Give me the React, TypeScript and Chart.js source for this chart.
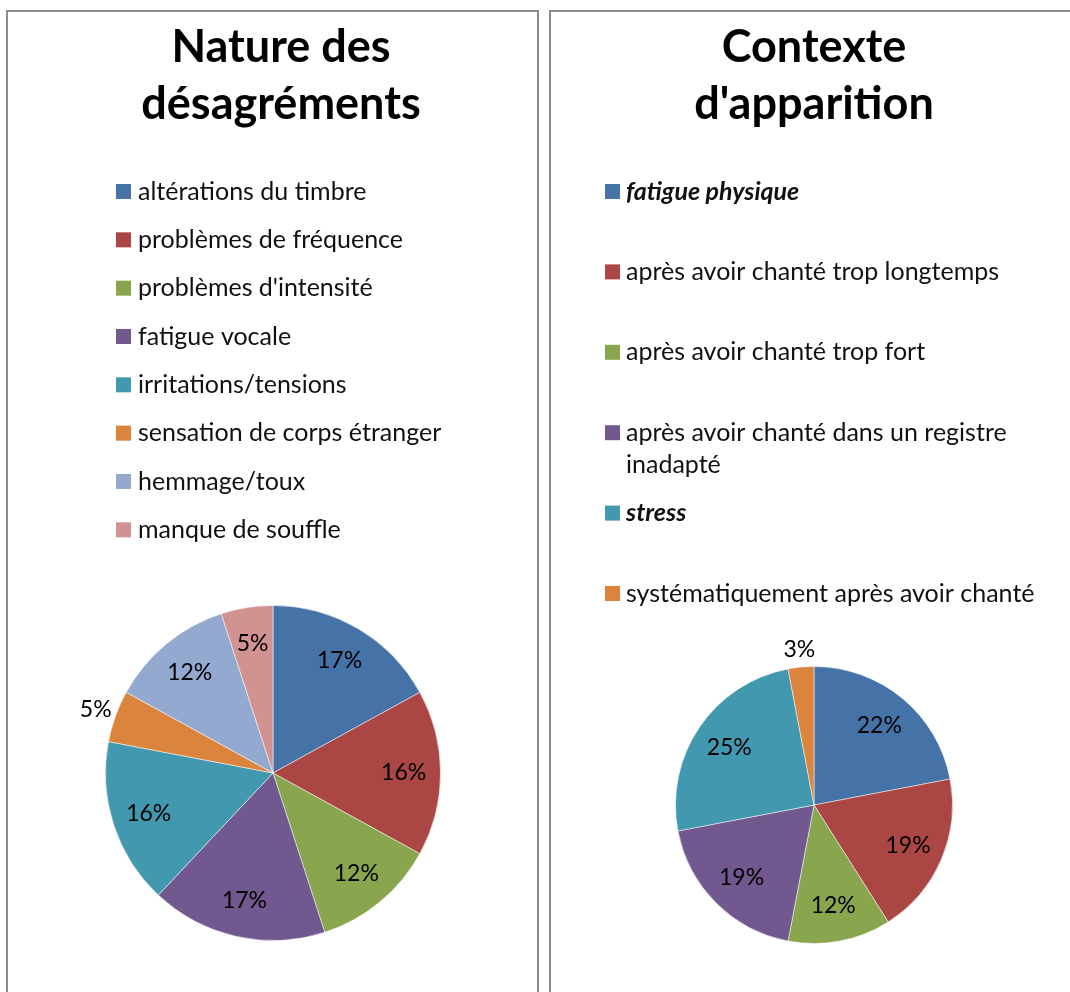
import React, { useEffect, useRef } from 'react';
import { Chart, registerables } from 'chart.js';

Chart.register(...registerables);

// ---------- data ----------
const natureTitle = ['Nature des', 'désagréments'];
const natureLabels = [
  'altérations du timbre',
  'problèmes de fréquence',
  "problèmes d'intensité",
  'fatigue vocale',
  'irritations/tensions',
  'sensation de corps étranger',
  'hemmage/toux',
  'manque de souffle',
];
const natureValues = [17, 16, 12, 17, 16, 5, 12, 5];

const contexteTitle = ['Contexte', "d'apparition"];
const contexteLabels = [
  'fatigue physique',
  'après avoir chanté trop longtemps',
  'après avoir chanté trop fort',
  'après avoir chanté dans un registre inadapté',
  'stress',
  'systématiquement après avoir chanté',
];
const contexteValues = [22, 19, 12, 19, 25, 3];

const palette = ['#4572A7', '#AA4643', '#89A54E', '#71588F', '#4198AF', '#DB843D', '#93A9CF', '#D19392'];

const FONT = 'Lato, Carlito, Calibri, "Open Sans", sans-serif';

// ---------- plugin drawing title, legend and percent labels ----------
const panelPlugin = {
  id: 'panelDecor',
  afterDraw(chart: any, _args: any, opts: any) {
    const ctx = chart.ctx;
    ctx.save();
    // title
    ctx.fillStyle = '#000';
    ctx.textAlign = 'center';
    ctx.textBaseline = 'alphabetic';
    ctx.font = `bold ${opts.titleSize}px ${FONT}`;
    const title: string[] = opts.title;
    title.forEach((line, i) => ctx.fillText(line, opts.titleX, opts.titleY + i * opts.titleLineH));

    // legend
    const labels: string[] = chart.data.labels;
    const bg: string[] = chart.data.datasets[0].backgroundColor;
    labels.forEach((lab, i) => {
      const cy = opts.legendY + i * opts.legendStep;
      ctx.fillStyle = bg[i];
      ctx.fillRect(opts.legendBoxX, cy - opts.legendBox / 2, opts.legendBox, opts.legendBox);
      const emph = opts.emphasis && opts.emphasis[i];
      ctx.font = `${emph ? 'italic bold ' : ''}${opts.legendSize}px ${FONT}`;
      ctx.fillStyle = '#111';
      ctx.textAlign = 'left';
      ctx.textBaseline = 'middle';
      // word wrap
      const words = lab.split(' ');
      const lines: string[] = [];
      let cur = '';
      words.forEach((w) => {
        const test = cur ? cur + ' ' + w : w;
        if (cur && ctx.measureText(test).width > opts.legendMaxW) {
          lines.push(cur);
          cur = w;
        } else cur = test;
      });
      if (cur) lines.push(cur);
      lines.forEach((l, j) => ctx.fillText(l, opts.legendTextX, cy + j * opts.legendLineH));
    });

    // percent labels
    const meta = chart.getDatasetMeta(0);
    const data: number[] = chart.data.datasets[0].data;
    const total = data.reduce((a, b) => a + b, 0);
    ctx.font = `${opts.labelSize}px ${FONT}`;
    ctx.fillStyle = '#000';
    ctx.textAlign = 'center';
    ctx.textBaseline = 'middle';
    meta.data.forEach((arc: any, i: number) => {
      const p = arc.getProps(['x', 'y', 'startAngle', 'endAngle', 'outerRadius'], true);
      const mid = (p.startAngle + p.endAngle) / 2;
      const k = opts.outside.includes(i) ? opts.outsideRatio : opts.insideRatio;
      const r = p.outerRadius * k;
      const txt = Math.round((data[i] / total) * 100) + '%';
      ctx.fillText(txt, p.x + Math.cos(mid) * r, p.y + Math.sin(mid) * r);
    });
    ctx.restore();
  },
};

type PanelProps = {
  labels: string[];
  values: number[];
  left: number;
  width: number;
  canvasW: number;
  padding: { left: number; right: number; top: number; bottom: number };
  radius: number;
  decor: any;
};

function PiePanel({ labels, values, left, width, canvasW, padding, radius, decor }: PanelProps) {
  const ref = useRef<HTMLCanvasElement | null>(null);
  useEffect(() => {
    if (!ref.current) return;
    const chart = new Chart(ref.current, {
      type: 'pie',
      data: {
        labels,
        datasets: [
          {
            data: values,
            backgroundColor: palette.slice(0, values.length),
            borderColor: 'rgba(255,255,255,0.5)',
            borderWidth: 1,
          },
        ],
      },
      options: {
        responsive: false,
        animation: false,
        events: [],
        radius,
        layout: { padding },
        plugins: {
          legend: { display: false },
          title: { display: false },
          tooltip: { enabled: false },
          panelDecor: decor,
        } as any,
      },
      plugins: [panelPlugin],
    });
    return () => chart.destroy();
  }, []);
  return (
    <div
      style={{
        position: 'absolute',
        left,
        top: 10,
        width,
        height: 1000,
        border: '2px solid #8c8c8c',
        boxSizing: 'border-box',
        background: '#fff',
        overflow: 'hidden',
      }}
    >
      <canvas ref={ref} width={canvasW} height={980} style={{ display: 'block', width: canvasW, height: 980 }} />
    </div>
  );
}

export default function App() {
  return (
    <div style={{ position: 'absolute', left: 0, top: 0, width: 1070, height: 992, background: '#fff', overflow: 'hidden' }}>
      <PiePanel
        labels={natureLabels}
        values={natureValues}
        left={6}
        width={533}
        canvasW={529}
        padding={{ left: 97, right: 96, top: 593, bottom: 51 }}
        radius={167.5}
        decor={{
          title: natureTitle,
          titleX: 273,
          titleY: 50,
          titleLineH: 57,
          titleSize: 45,
          legendBoxX: 108,
          legendBox: 15,
          legendTextX: 130,
          legendY: 179.5,
          legendStep: 48.33,
          legendSize: 25,
          legendLineH: 32,
          legendMaxW: 1000,
          labelSize: 23,
          insideRatio: 0.78,
          outsideRatio: 1.125,
          outside: [5],
        }}
      />
      <PiePanel
        labels={contexteLabels}
        values={contexteValues}
        left={549}
        width={525}
        canvasW={521}
        padding={{ left: 123, right: 118, top: 653, bottom: 47 }}
        radius={138.5}
        decor={{
          title: contexteTitle,
          titleX: 263,
          titleY: 50,
          titleLineH: 57,
          titleSize: 45,
          legendBoxX: 54,
          legendBox: 15,
          legendTextX: 75,
          legendY: 179.5,
          legendStep: 80.4,
          legendSize: 25,
          legendLineH: 32,
          legendMaxW: 430,
          emphasis: [true, false, false, false, true, false],
          labelSize: 23,
          insideRatio: 0.74,
          outsideRatio: 1.13,
          outside: [5],
        }}
      />
    </div>
  );
}
